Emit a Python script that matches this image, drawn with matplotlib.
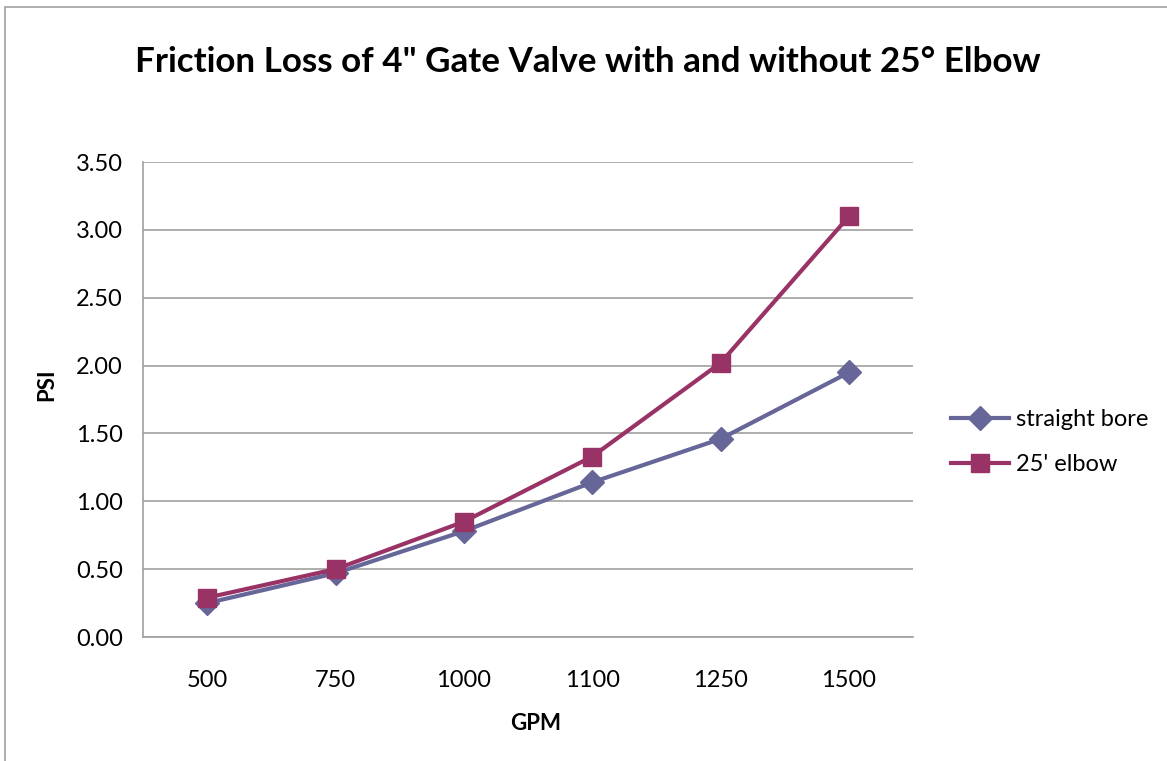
import matplotlib
matplotlib.use('Agg')
import matplotlib.pyplot as plt
from matplotlib.patches import Rectangle

# data
gpm = ['500', '750', '1000', '1100', '1250', '1500']
straight_bore = [0.25, 0.47, 0.78, 1.14, 1.46, 1.95]
elbow_25 = [0.29, 0.50, 0.85, 1.33, 2.02, 3.10]
y_ticks = [0.0, 0.5, 1.0, 1.5, 2.0, 2.5, 3.0, 3.5]

plt.rcParams['font.family'] = ['Lato', 'DejaVu Sans']

fig = plt.figure(figsize=(11.67, 7.61), dpi=100)
ax = fig.add_axes([0.1225, 0.1629, 0.66, 0.6242])

# chart area border (Excel style)
fig.patches.append(Rectangle((5 / 1167, -0.05), 1.2, 1 - 7 / 761 + 0.05,
                             transform=fig.transFigure, fill=False,
                             edgecolor='#a0a0a0', linewidth=1.2))

x = range(len(gpm))
ax.plot(x, straight_bore, color='#666699', linewidth=3, marker='D',
        markersize=12.5, label='straight bore')
ax.plot(x, elbow_25, color='#993366', linewidth=3, marker='s',
        markersize=13.5, label="25' elbow")

ax.set_xlim(-0.5, len(gpm) - 0.5)
ax.set_ylim(0, 3.5)
ax.set_xticks(list(x))
ax.set_xticklabels(gpm)
ax.set_yticks(y_ticks)
ax.set_yticklabels(['%.2f' % v for v in y_ticks])
ax.tick_params(axis='both', length=0, labelsize=17)
ax.tick_params(axis='y', pad=14.5)
ax.tick_params(axis='x', pad=24)
ax.grid(axis='y', color='#a0a0a0', linewidth=1.2)
ax.set_axisbelow(True)
for s in ['top', 'right']:
    ax.spines[s].set_visible(False)
for s in ['left', 'bottom']:
    ax.spines[s].set_color('#a0a0a0')
    ax.spines[s].set_linewidth(1.2)

# axis titles
fig.text(536 / 1167, 1 - 724 / 761, 'GPM', ha='center', va='center',
         fontsize=16, fontweight='bold')
fig.text(47 / 1167, 1 - 385 / 761, 'PSI', ha='center', va='center',
         rotation=90, fontsize=16, fontweight='bold')
fig.text(0.504, 0.919, 'Friction Loss of 4" Gate Valve with and without 25\u00b0 Elbow',
         ha='center', va='center', fontsize=25.2, fontweight='bold')

ax.legend(loc='center left', bbox_to_anchor=(1.022, 0.41), frameon=False,
          fontsize=17, handlelength=2.45, handletextpad=0.3, labelspacing=1.0,
          borderaxespad=0.5)

fig.savefig('out.png', dpi=100)
